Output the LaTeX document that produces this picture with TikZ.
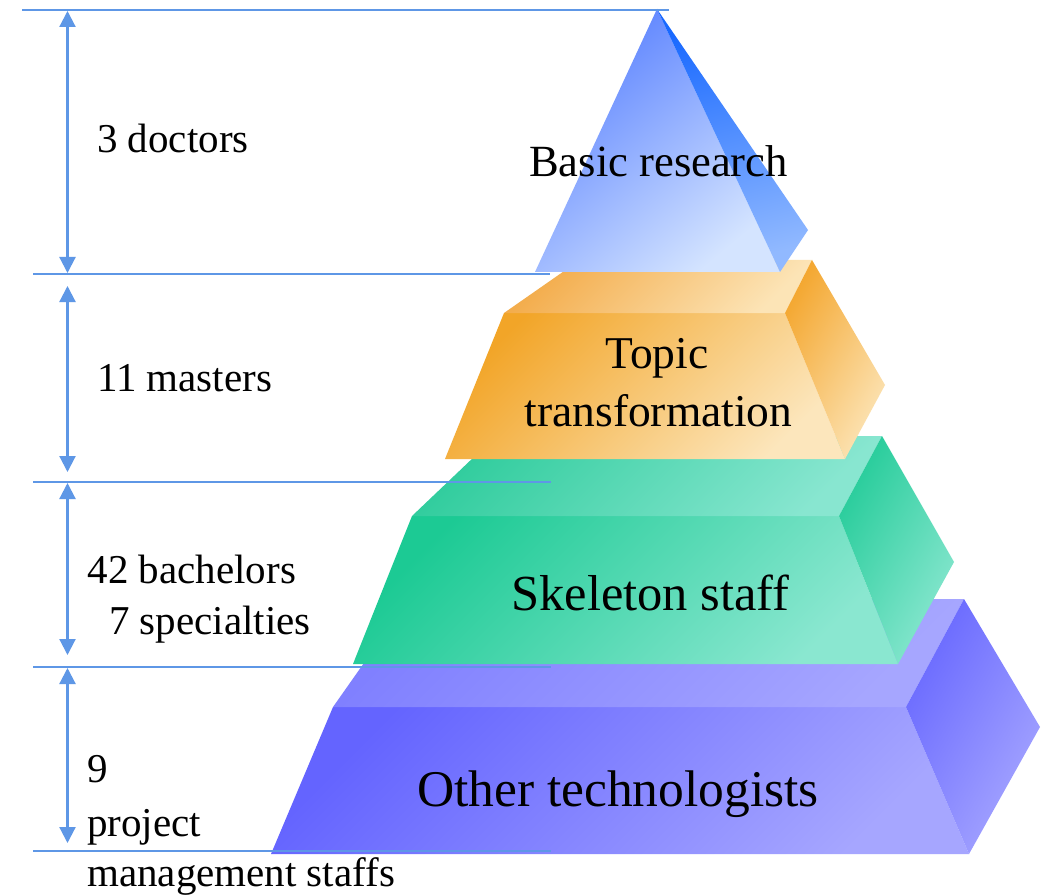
\documentclass[tikz,border=0pt]{standalone}
\usepackage{fontspec}
\setmainfont{Liberation Serif}
\usetikzlibrary{arrows.meta}
\definecolor{guide}{RGB}{94,151,230}
\tikzset{
  guideline/.style={draw=guide, line width=2.2pt},
  dimarrow/.style={draw=guide, line width=2.2pt, {Triangle[length=16pt,width=16pt]}-{Triangle[length=16pt,width=16pt]}},
  face/.style={draw=none},
  bfront/.style={face, top color={rgb,255:red,88;green,128;blue,255}, bottom color={rgb,255:red,212;green,228;blue,255}, shading angle=40},
  bside/.style={face, top color={rgb,255:red,25;green,105;blue,255}, bottom color={rgb,255:red,145;green,185;blue,255}, shading angle=15},
  ofront/.style={face, top color={rgb,255:red,242;green,165;blue,40}, bottom color={rgb,255:red,252;green,230;blue,188}, shading angle=45},
  otop/.style={face, top color={rgb,255:red,243;green,172;blue,75}, bottom color={rgb,255:red,252;green,228;blue,182}, shading angle=45},
  oright/.style={face, top color={rgb,255:red,244;green,168;blue,50}, bottom color={rgb,255:red,252;green,228;blue,182}, shading angle=60},
  gfront/.style={face, top color={rgb,255:red,28;green,202;blue,148}, bottom color={rgb,255:red,138;green,231;blue,208}, shading angle=45},
  gtop/.style={face, top color={rgb,255:red,50;green,205;blue,158}, bottom color={rgb,255:red,136;green,230;blue,208}, shading angle=45},
  gright/.style={face, top color={rgb,255:red,38;green,204;blue,154}, bottom color={rgb,255:red,138;green,231;blue,208}, shading angle=60},
  pfront/.style={face, top color={rgb,255:red,100;green,100;blue,255}, bottom color={rgb,255:red,166;green,166;blue,255}, shading angle=45},
  ptop/.style={face, top color={rgb,255:red,128;green,128;blue,255}, bottom color={rgb,255:red,166;green,166;blue,255}, shading angle=45},
  pright/.style={face, top color={rgb,255:red,104;green,104;blue,255}, bottom color={rgb,255:red,166;green,166;blue,255}, shading angle=60},
  mainlabel/.style={inner sep=0pt, anchor=base, text=black},
  sidelabel/.style={inner sep=0pt, anchor=base west, text=black, font=\fontsize{41}{48}\selectfont},
}
\begin{document}
\begin{tikzpicture}[x=1pt,y=-1pt]
\useasboundingbox[fill=white] (0,0) rectangle (1050,896);

% ---- bottom block: Other technologists (purple)
\shade[pfront] (333,707) -- (906,707) -- (969,854) -- (271,854) -- cycle;
\shade[ptop]   (333,707) -- (409,599) -- (964,599) -- (906,707) -- cycle;
\shade[pright] (906,707) -- (964,599) -- (1040,727) -- (969,854) -- cycle;

% ---- Skeleton staff (green)
\shade[gfront] (412,516) -- (839,516) -- (898,664) -- (353,664) -- cycle;
\shade[gtop]   (412,516) -- (496,436) -- (882,436) -- (839,516) -- cycle;
\shade[gright] (839,516) -- (882,436) -- (954,562) -- (898,664) -- cycle;

% ---- Topic transformation (orange)
\shade[ofront] (504,313) -- (785,313) -- (845,459) -- (445,459) -- cycle;
\shade[otop]   (504,313) -- (580,260) -- (812,260) -- (785,313) -- cycle;
\shade[oright] (785,313) -- (812,260) -- (885,385) -- (845,459) -- cycle;

% ---- Basic research (blue pyramid)
\shade[bfront] (657,9) -- (780,272) -- (535,272) -- cycle;
\shade[bside]  (657,9) -- (808,230) -- (780,272) -- cycle;

% ---- main labels
\node[mainlabel, font=\fontsize{44.6}{50}\selectfont] (basic) at (658.5,177) {Basic research};
\node[mainlabel, font=\fontsize{45.5}{50}\selectfont] (topic) at (657,368) {Topic};
\node[mainlabel, font=\fontsize{45.5}{50}\selectfont] (transf) at (658.5,426) {transformation};
\node[mainlabel, font=\fontsize{50.5}{56}\selectfont] (skel) at (650.5,610) {Skeleton staff};
\node[mainlabel, font=\fontsize{51.5}{56}\selectfont] (other) at (618,806) {Other technologists};

% ---- guide lines
\coordinate (l1w) at (22,10);  \coordinate (l1e) at (669,10);
\coordinate (l2w) at (33,274); \coordinate (l2e) at (550,274);
\coordinate (l3w) at (33,482); \coordinate (l3e) at (551,482);
\coordinate (l4w) at (33,667); \coordinate (l4e) at (551,667);
\coordinate (l5w) at (33,851); \coordinate (l5e) at (551,851);
\draw[guideline] (l1w) -- (l1e);
\draw[guideline] (l2w) -- (l2e);
\draw[guideline] (l3w) -- (l3e);
\draw[guideline] (l4w) -- (l4e);
\draw[guideline] (l5w) -- (l5e);

% ---- dimension arrows
\coordinate (a1t) at (67.5,11);  \coordinate (a1b) at (67.5,273);
\coordinate (a2t) at (67.5,286); \coordinate (a2b) at (67.5,472);
\coordinate (a3t) at (67.5,483); \coordinate (a3b) at (67.5,655);
\coordinate (a4t) at (67.5,668); \coordinate (a4b) at (67.5,843);
\draw[dimarrow] (a1t) -- (a1b);
\draw[dimarrow] (a2t) -- (a2b);
\draw[dimarrow] (a3t) -- (a3b);
\draw[dimarrow] (a4t) -- (a4b);

% ---- side labels
\node[sidelabel] (doc) at (97,153) {3 doctors};
\node[sidelabel] (mas) at (97,391) {11 masters};
\node[sidelabel] (bach) at (87.5,583) {42 bachelors};
\node[sidelabel] (spec) at (109,634) {7 specialties};
\node[sidelabel] (nine) at (87,782) {9};
\node[sidelabel] (proj) at (87,836) {project};
\node[sidelabel] (mgmt) at (87,886) {management staffs};
\end{tikzpicture}
\end{document}
